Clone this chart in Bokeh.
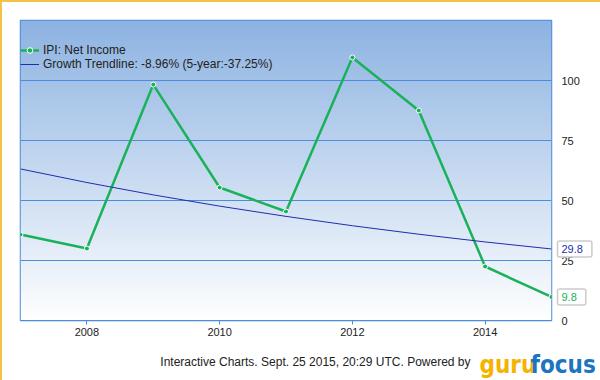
import numpy as np
from bokeh.plotting import figure
from bokeh.models import Label, Range1d, FixedTicker, Legend, LegendItem
from bokeh.embed import file_html
from bokeh.resources import INLINE

# ---- data ----
years = [2007, 2008, 2009, 2010, 2011, 2012, 2013, 2014, 2015]
net_income = [35.8, 30.0, 98.3, 55.4, 45.4, 109.6, 87.5, 22.5, 9.8]
trend = [63.15, 57.49, 52.34, 47.65, 43.38, 39.49, 35.95, 32.73, 29.8]
x_ticks = [2008, 2010, 2012, 2014]
y_ticks = [0, 25, 50, 75, 100]
series_label = "IPI: Net Income"
trend_label = "Growth Trendline: -8.96% (5-year:-37.25%)"
footer = "Interactive Charts. Sept. 25 2015, 20:29 UTC. Powered by"

GREEN = "#19b25a"
TBLUE = "#1f2db0"
GRID = "#4a8ddc"
FONT = "Liberation Sans"
LOGO_FONT = "DejaVu Sans Condensed"

p = figure(width=596, height=376, output_backend="svg", toolbar_location=None,
           x_range=Range1d(2007, 2015), y_range=Range1d(0, 125),
           frame_width=531, frame_height=300,
           min_border_left=18, min_border_top=18, min_border_right=47, min_border_bottom=58,
           y_axis_location="right")
p.styles = {"border": "2px solid #f3c246"}

# gradient background
n = 200
img = np.zeros((n, 1), dtype=np.uint32)
view = img.view(dtype=np.uint8).reshape((n, 1, 4))
top = np.array([141, 179, 226]); bot = np.array([255, 255, 255])
for i in range(n):
    t = i / (n - 1)
    c = bot + (top - bot) * t
    view[i, 0, 0:3] = c.astype(np.uint8)
    view[i, 0, 3] = 255
p.image_rgba(image=[img], x=2007, y=0, dw=8, dh=125, level="image")

p.outline_line_color = GRID
p.outline_line_width = 1.5
p.background_fill_color = "white"
p.border_fill_color = "white"

p.xgrid.visible = False
p.ygrid.ticker = FixedTicker(ticks=y_ticks)
p.ygrid.grid_line_color = GRID
p.ygrid.grid_line_width = 1
p.ygrid.level = "underlay"

xa = p.xaxis[0]
xa.ticker = FixedTicker(ticks=x_ticks)
xa.axis_line_color = GRID
xa.major_tick_line_color = GRID
xa.major_tick_in = 0
xa.major_tick_out = 4
xa.minor_tick_line_color = None
xa.major_label_text_font = FONT
xa.major_label_text_font_size = "11px"
xa.major_label_text_color = "#222222"
xa.major_label_standoff = 3

ya = p.yaxis[0]
ya.ticker = FixedTicker(ticks=y_ticks)
ya.axis_line_color = None
ya.major_tick_line_color = None
ya.minor_tick_line_color = None
ya.major_label_text_font = FONT
ya.major_label_text_font_size = "11px"
ya.major_label_text_color = "#222222"
ya.major_label_standoff = 4

r1 = p.line(years, net_income, line_color=GREEN, line_width=2.5)
r1b = p.scatter(years, net_income, size=5, fill_color=GREEN, line_color="white", line_width=1)
r2 = p.line(years, trend, line_color=TBLUE, line_width=1)

legend = Legend(items=[LegendItem(label=series_label, renderers=[r1, r1b]),
                       LegendItem(label=trend_label, renderers=[r2])],
                location=(0, 249), background_fill_alpha=0, border_line_color=None,
                label_text_font=FONT, label_text_font_size="12px", label_text_color="#222222",
                glyph_width=19, glyph_height=14, label_height=14, spacing=0, padding=2,
                margin=0, label_standoff=4)
p.add_layout(legend, "center")

# value tags
for val, col in [(trend[-1], TBLUE), (net_income[-1], GREEN)]:
    p.add_layout(Label(x=2015, y=val, text=f"{val}", x_offset=6, text_baseline="middle",
                       text_font=FONT, text_font_size="11px", text_color=col,
                       background_fill_color="white", border_line_color="#cccccc",
                       border_line_width=1.5, border_radius=2,
                       padding=dict(left=4, right=9, top=4, bottom=4)), "right")

# footer
p.add_layout(Label(x=2015, y=0, x_offset=-81, y_offset=-41, text=footer, text_align="right",
                   text_baseline="middle", text_font=FONT, text_font_size="12px",
                   text_color="#222222"), "below")
p.add_layout(Label(x=2015, y=0, x_offset=-72, y_offset=-44, text="guru", text_align="left",
                   text_baseline="alphabetic", text_font=LOGO_FONT, text_font_style="bold",
                   text_font_size="24px", text_color="#f5b300"), "below")
p.add_layout(Label(x=2015, y=0, x_offset=-21, y_offset=-44, text="focus", text_align="left",
                   text_baseline="alphabetic", text_font=LOGO_FONT, text_font_style="bold",
                   text_font_size="24px", text_color="#1b75c0"), "below")

open("out.html", "w").write(file_html(p, INLINE))
